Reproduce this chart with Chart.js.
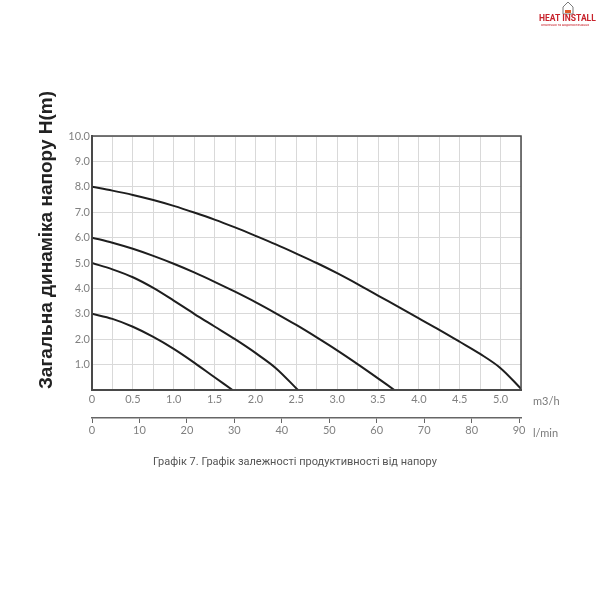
<!DOCTYPE html>
<html>
<head>
<meta charset="utf-8">
<script src="https://cdn.jsdelivr.net/npm/chart.js@4"></script>
<style>
html,body{margin:0;padding:0;background:#fff;}
#wrap{width:600px;height:600px;position:relative;}
</style>
</head>
<body>
<div id="wrap"><canvas id="c" width="600" height="600"></canvas></div>
<script>
// Flow in m3/h and head in m
const curve1Q = [0, 0.25, 0.5, 0.75, 1.0, 1.25, 1.5, 1.72];
const curve1H = [3.0, 2.8, 2.49, 2.09, 1.62, 1.08, 0.5, 0];
const curve2Q = [0, 0.25, 0.5, 0.75, 1.0, 1.25, 1.5, 1.75, 2.0, 2.25, 2.52];
const curve2H = [5.0, 4.75, 4.44, 4.02, 3.52, 3.0, 2.5, 2.0, 1.46, 0.86, 0];
const curve3Q = [0, 0.25, 0.5, 0.75, 1.0, 1.25, 1.5, 1.75, 2.0, 2.25, 2.5, 2.75, 3.0, 3.25, 3.5, 3.7];
const curve3H = [6.0, 5.8, 5.56, 5.28, 4.97, 4.63, 4.26, 3.87, 3.46, 3.02, 2.56, 2.07, 1.56, 1.02, 0.46, 0];
const curve4Q = [0, 0.25, 0.5, 0.75, 1.0, 1.25, 1.5, 1.75, 2.0, 2.25, 2.5, 2.75, 3.0, 3.25, 3.5, 3.75, 4.0, 4.25, 4.5, 4.75, 5.0, 5.25];
const curve4H = [8.0, 7.85, 7.68, 7.48, 7.25, 6.99, 6.71, 6.40, 6.07, 5.73, 5.37, 5.0, 4.6, 4.17, 3.72, 3.27, 2.82, 2.37, 1.9, 1.42, 0.86, 0.05];

const headTicks = [0, 1, 2, 3, 4, 5, 6, 7, 8, 9, 10];
const m3hLabels = ['0', '0.5', '1.0', '1.5', '2.0', '2.5', '3.0', '3.5', '4.0', '4.5', '5.0'];
const lminTicks = [0, 10, 20, 30, 40, 50, 60, 70, 80, 90];

const yTitle = 'Загальна динаміка напору H(m)';
const unitM3h = 'm3/h';
const unitLmin = 'l/min';
const caption = 'Графік 7. Графік залежності продуктивності від напору';
const logoText = 'HEAT INSTALL';
const logoSub = 'опалення та водопостачання';

function pts(q, h) { return q.map((v, i) => ({ x: v, y: h[i] })); }

const lineStyle = {
  showLine: true, pointRadius: 0, borderColor: '#1e1e1e', borderWidth: 2,
  tension: 0.35, fill: false
};

const extras = {
  id: 'extras',
  afterDraw(chart) {
    const ctx = chart.ctx;
    const a = chart.chartArea;
    ctx.save();
    // frame
    ctx.strokeStyle = '#4a4a4a';
    ctx.lineWidth = 1.5;
    ctx.strokeRect(a.left, a.top, a.right - a.left, a.bottom - a.top);
    // y title
    ctx.save();
    ctx.translate(47, 240);
    ctx.rotate(-Math.PI / 2);
    ctx.font = 'bold 19px "Liberation Sans", Arial, sans-serif';
    ctx.fillStyle = '#222';
    ctx.textAlign = 'center';
    ctx.textBaseline = 'middle';
    ctx.fillText(yTitle, 0, 0);
    ctx.restore();
    // units
    ctx.font = '11px Lato, sans-serif';
    ctx.fillStyle = '#7a7a7a';
    ctx.textAlign = 'left';
    ctx.textBaseline = 'middle';
    ctx.fillText(unitM3h, 533, 401);
    ctx.fillText(unitLmin, 533, 433);
    // caption
    ctx.font = '11px Roboto, sans-serif';
    ctx.fillStyle = '#555';
    ctx.textAlign = 'center';
    ctx.fillText(caption, 295, 462);
    // logo
    ctx.strokeStyle = '#7a7a7a';
    ctx.lineWidth = 1;
    ctx.beginPath();
    ctx.moveTo(563, 14); ctx.lineTo(563, 7); ctx.lineTo(568, 2); ctx.lineTo(573, 7); ctx.lineTo(573, 14); ctx.closePath();
    ctx.stroke();
    ctx.fillStyle = '#e05a2a';
    ctx.fillRect(565, 10, 6, 3);
    ctx.font = 'bold 8.5px Roboto, sans-serif';
    ctx.fillStyle = '#c8232c';
    ctx.textAlign = 'left';
    ctx.fillText(logoText, 539, 19);
    ctx.font = '3.5px Roboto, sans-serif';
    ctx.fillText(logoSub, 541, 25);
    ctx.restore();
  }
};

new Chart(document.getElementById('c'), {
  type: 'scatter',
  data: {
    datasets: [
      Object.assign({ data: pts(curve1Q, curve1H) }, lineStyle),
      Object.assign({ data: pts(curve2Q, curve2H) }, lineStyle),
      Object.assign({ data: pts(curve3Q, curve3H) }, lineStyle),
      Object.assign({ data: pts(curve4Q, curve4H) }, lineStyle)
    ]
  },
  options: {
    responsive: false,
    animation: false,
    events: [],
    layout: { padding: { top: 136, right: 79, left: 0, bottom: 160 } },
    plugins: { legend: { display: false }, tooltip: { enabled: false } },
    scales: {
      y: {
        type: 'linear', min: 0, max: 10,
        afterFit(s) { s.width = 92; },
        afterBuildTicks(s) { s.ticks = headTicks.map(v => ({ value: v })); },
        ticks: {
          callback: v => v === 0 ? '' : v.toFixed(1),
          color: '#808080', font: { family: 'Lato', size: 11 }, padding: 2
        },
        grid: { color: '#d9d9d9', lineWidth: 1, drawTicks: false },
        border: { color: '#4a4a4a', width: 2 }
      },
      x: {
        type: 'linear', min: 0, max: 5.25, position: 'bottom', weight: 0,
        afterFit(s) { s.height = 28; },
        ticks: {
          stepSize: 0.25, autoSkip: false, maxRotation: 0,
          callback: (v) => {
            const k = Math.round(v * 2);
            if (Math.abs(v * 2 - k) > 1e-6) return '';
            return m3hLabels[k] !== undefined ? m3hLabels[k] : '';
          },
          color: '#808080', font: { family: 'Lato', size: 11 }, padding: 3
        },
        grid: { color: '#d9d9d9', lineWidth: 1, drawTicks: false },
        border: { color: '#4a4a4a', width: 2 }
      },
      x2: {
        type: 'linear', min: 0, max: 90.4, position: 'bottom', weight: 1,
        afterFit(s) { s.height = 22; },
        afterBuildTicks(s) { s.ticks = lminTicks.map(v => ({ value: v })); },
        ticks: {
          autoSkip: false, maxRotation: 0,
          color: '#808080', font: { family: 'Lato', size: 11 }, padding: 1
        },
        grid: { drawOnChartArea: false, drawTicks: true, tickLength: 5, color: '#666', lineWidth: 1 },
        border: { color: '#666', width: 1.5 }
      }
    }
  },
  plugins: [extras]
});
</script>
</body>
</html>
